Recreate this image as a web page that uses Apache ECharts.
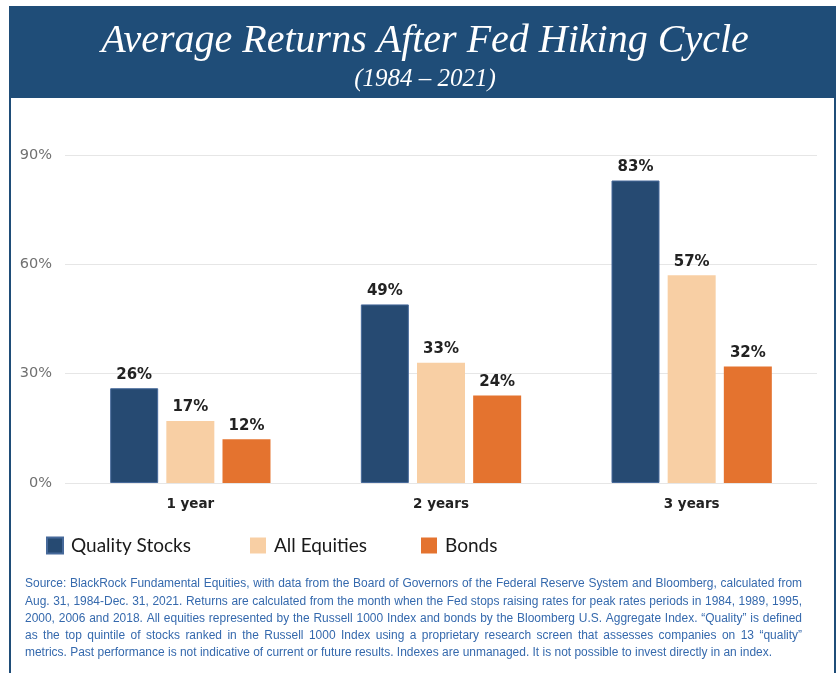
<!DOCTYPE html>
<html>
<head>
<meta charset="utf-8">
<script src="https://cdn.jsdelivr.net/npm/echarts@6/dist/echarts.min.js"></script>
<style>
  html, body { margin: 0; padding: 0; background: #fff; }
  #main { width: 840px; height: 673px; }
</style>
</head>
<body>
<div id="main"></div>
<script>
// 数据
var categories = ['1 year', '2 years', '3 years'];
var qualityStocks = [26, 49, 83];
var allEquities = [17, 33, 57];
var bonds = [12, 24, 32];
var yTicks = [0, 30, 60, 90];

var titleText = 'Average Returns After Fed Hiking Cycle';
var subtitleText = '(1984 – 2021)';
var sourceLines = [
  'Source: BlackRock Fundamental Equities, with data from the Board of Governors of the Federal Reserve System and Bloomberg, calculated from',
  'Aug. 31, 1984-Dec. 31, 2021. Returns are calculated from the month when the Fed stops raising rates for peak rates periods in 1984, 1989, 1995,',
  '2000, 2006 and 2018. All equities represented by the Russell 1000 Index and bonds by the Bloomberg U.S. Aggregate Index. \u201cQuality\u201d is defined',
  'as the top quintile of stocks ranked in the Russell 1000 Index using a proprietary research screen that assesses companies on 13 \u201cquality\u201d',
  'metrics. Past performance is not indicative of current or future results. Indexes are unmanaged. It is not possible to invest directly in an index.'
];

var navy = '#1f4d78';
var chart = echarts.init(document.getElementById('main'));

// 脚注：窄体效果用横向缩放，两端对齐逐词摆放
var footFamily = '"Liberation Sans", Arial, sans-serif';
var footSize = 12.5;
var footLeft = 25, footRight = 802, footTop = 584, footStep = 17.2, lastLineWidth = 747;
var ctx = document.createElement('canvas').getContext('2d');
ctx.font = footSize + 'px ' + footFamily;
var widest = 0;
sourceLines.forEach(function (l) { widest = Math.max(widest, ctx.measureText(l).width); });
var lastNatural = ctx.measureText(sourceLines[sourceLines.length - 1]).width;
var squeeze = Math.min(lastLineWidth / lastNatural, (footRight - footLeft) / widest);
var footElements = [];
sourceLines.forEach(function (line, li) {
  var words = line.split(' ');
  var widths = words.map(function (w) { return ctx.measureText(w).width * squeeze; });
  var total = widths.reduce(function (a, b) { return a + b; }, 0);
  var gap = li === sourceLines.length - 1
    ? ctx.measureText(' ').width * squeeze
    : (footRight - footLeft - total) / (words.length - 1);
  var x = footLeft;
  words.forEach(function (w, i) {
    footElements.push({
      type: 'text', silent: true,
      x: x, y: footTop + li * footStep, scaleX: squeeze,
      style: {
        x: 0, y: 0, text: w,
        fontSize: footSize, fontFamily: footFamily,
        fill: '#3569ad', verticalAlign: 'middle', align: 'left'
      }
    });
    x += widths[i] + gap;
  });
});

var legendCommon = {
  icon: 'rect', itemWidth: 16, itemHeight: 16, top: 536, padding: 0,
  textStyle: { fontFamily: 'Lato', fontSize: 19, color: '#1a1a1a', padding: [0, 0, 0, 3] }
};

var labelStyle = {
  show: true, position: 'top', distance: 6, formatter: '{c}%',
  fontFamily: 'DejaVu Sans', fontWeight: 'bold', fontSize: 15, color: '#222'
};

var option = {
  backgroundColor: '#fff',
  animation: false,
  grid: { left: 65, right: 23, top: 155, bottom: 190 },
  legend: [
    Object.assign({ data: ['Quality Stocks'], left: 46 }, legendCommon),
    Object.assign({ data: ['All Equities'], left: 250 }, legendCommon),
    Object.assign({ data: ['Bonds'], left: 421 }, legendCommon)
  ],
  xAxis: {
    type: 'category',
    data: categories,
    axisLine: { show: false },
    axisTick: { show: false },
    axisLabel: { fontFamily: 'DejaVu Sans', fontWeight: 'bold', fontSize: 13.5, color: '#222', margin: 14 }
  },
  yAxis: {
    type: 'value',
    min: yTicks[0],
    max: yTicks[yTicks.length - 1],
    interval: yTicks[1] - yTicks[0],
    axisLine: { show: false },
    axisTick: { show: false },
    axisLabel: { formatter: '{value}%', fontFamily: 'DejaVu Sans', fontSize: 14.5, color: '#707070', margin: 13 },
    splitLine: { lineStyle: { color: '#e6e6e6', width: 1 } }
  },
  series: [
    {
      name: 'Quality Stocks', type: 'bar', data: qualityStocks,
      barWidth: 48, barGap: '17%',
      itemStyle: { color: '#264a72', borderColor: '#46699a', borderWidth: 1 },
      label: labelStyle
    },
    {
      name: 'All Equities', type: 'bar', data: allEquities,
      barWidth: 48, barGap: '17%',
      itemStyle: { color: '#f8cfa4' },
      label: labelStyle
    },
    {
      name: 'Bonds', type: 'bar', data: bonds,
      barWidth: 48, barGap: '17%',
      itemStyle: { color: '#e4732f' },
      label: labelStyle
    }
  ],
  graphic: [
    { type: 'rect', silent: true, z: -1, shape: { x: 9, y: 6, width: 827, height: 92 }, style: { fill: navy } },
    { type: 'line', silent: true, shape: { x1: 10, y1: 98, x2: 10, y2: 673 }, style: { stroke: navy, lineWidth: 2 } },
    { type: 'line', silent: true, shape: { x1: 835, y1: 98, x2: 835, y2: 673 }, style: { stroke: navy, lineWidth: 2 } },
    {
      type: 'text', silent: true,
      style: {
        x: 425, y: 41, text: titleText, align: 'center', verticalAlign: 'middle',
        fontFamily: '"Liberation Serif", serif', fontStyle: 'italic', fontSize: 40, fill: '#fff'
      }
    },
    {
      type: 'text', silent: true,
      style: {
        x: 425, y: 79, text: subtitleText, align: 'center', verticalAlign: 'middle',
        fontFamily: '"Liberation Serif", serif', fontStyle: 'italic', fontSize: 25, fill: '#fff'
      }
    }
  ].concat(footElements)
};

chart.setOption(option);
</script>
</body>
</html>
